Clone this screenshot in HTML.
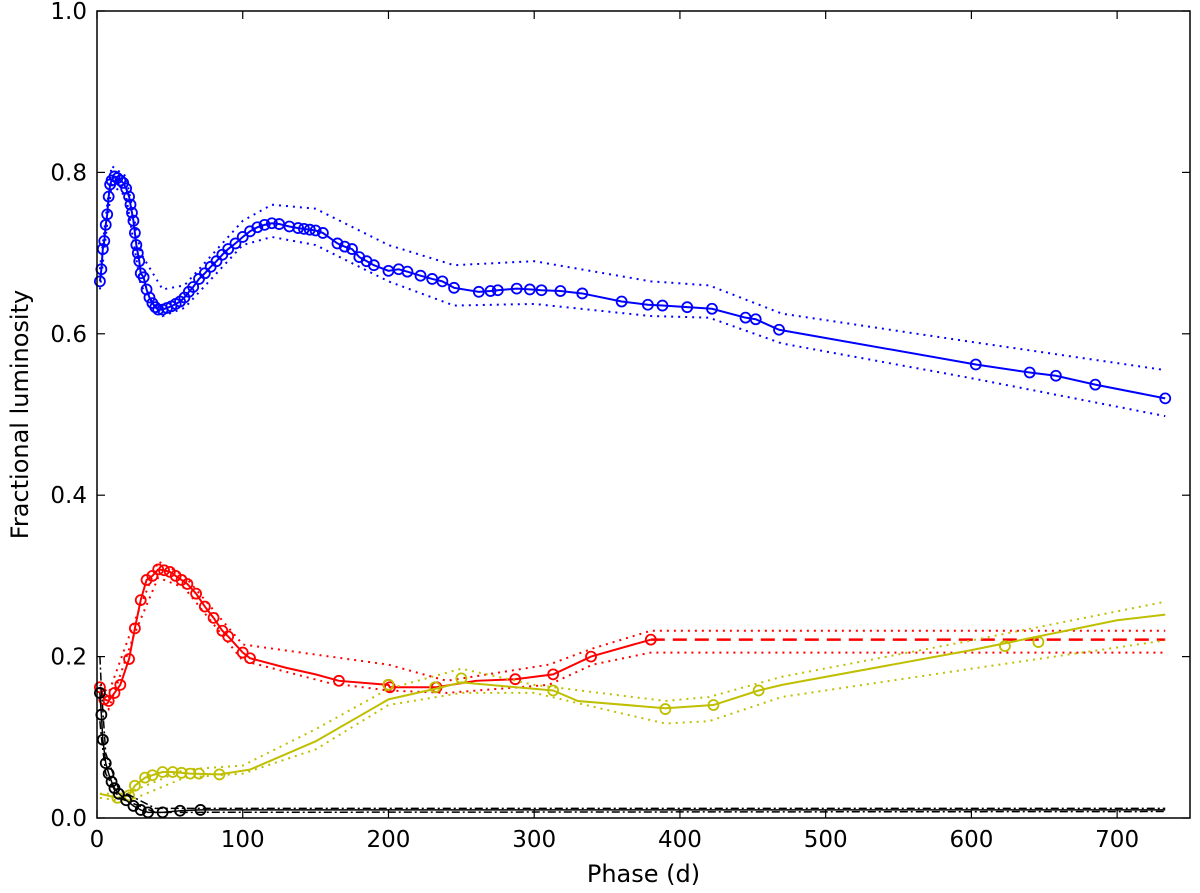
<!DOCTYPE html>
<html><head><meta charset="utf-8"><style>
body{margin:0;background:#fff;}
svg text{font-family:"DejaVu Sans","Liberation Sans",sans-serif;fill:#000;}
</style></head><body>
<svg id="chart" width="1200" height="888" xmlns="http://www.w3.org/2000/svg"></svg>
<script>
const xTicks=[0,100,200,300,400,500,600,700];
const yTicks=[0.0,0.2,0.4,0.6,0.8,1.0];
const blueMarkers=[[2,0.665],[3,0.68],[4,0.705],[5,0.715],[6,0.735],[7,0.748],[8,0.77],[9,0.785],[10,0.79],[12,0.795],[14,0.793],[16,0.79],[18,0.787],[20,0.78],[22,0.77],[23,0.76],[24,0.75],[25,0.74],[26,0.725],[27,0.71],[28,0.7],[29,0.69],[30,0.675],[32,0.67],[34,0.655],[36,0.645],[38,0.638],[40,0.633],[42,0.63],[45,0.63],[48,0.632],[51,0.634],[54,0.637],[57,0.64],[60,0.645],[63,0.652],[66,0.658],[70,0.668],[74,0.675],[78,0.683],[82,0.69],[86,0.698],[90,0.705],[95,0.712],[100,0.72],[105,0.727],[110,0.732],[115,0.735],[120,0.737],[125,0.736],[132,0.733],[138,0.731],[142,0.73],[146,0.729],[150,0.728],[155,0.725],[165,0.712],[170,0.708],[175,0.705],[180,0.695],[185,0.69],[190,0.685],[200,0.678],[207,0.68],[213,0.677],[222,0.672],[230,0.668],[237,0.665],[245,0.657],[262,0.652],[270,0.653],[275,0.654],[288,0.656],[297,0.655],[305,0.654],[318,0.653],[333,0.65],[360,0.64],[378,0.636],[388,0.635],[405,0.633],[422,0.631],[445,0.62],[452,0.618],[468,0.605],[603,0.562],[640,0.552],[658,0.548],[685,0.537],[733,0.52]];
const blueUpper=[[2,0.68],[10,0.808],[20,0.795],[30,0.7],[45,0.655],[60,0.66],[100,0.74],[120,0.76],[150,0.755],[200,0.71],[245,0.685],[300,0.69],[380,0.665],[420,0.66],[470,0.625],[600,0.59],[733,0.555]];
const blueLower=[[2,0.655],[10,0.785],[20,0.77],[30,0.66],[45,0.622],[60,0.632],[100,0.71],[120,0.72],[150,0.71],[200,0.665],[245,0.635],[300,0.637],[380,0.622],[420,0.62],[470,0.588],[600,0.545],[733,0.498]];
const redMarkers=[[2,0.162],[5,0.147],[8,0.145],[12,0.155],[16,0.165],[22,0.197],[26,0.235],[30,0.27],[34,0.295],[38,0.3],[42,0.308],[46,0.307],[50,0.305],[54,0.3],[58,0.295],[62,0.29],[68,0.278],[74,0.262],[80,0.248],[86,0.232],[90,0.225],[100,0.205],[105,0.198],[166,0.17],[200,0.165],[201,0.162],[233,0.162],[287,0.172],[313,0.178],[339,0.2],[380,0.221]];
const redLine=[[2,0.162],[5,0.147],[8,0.145],[12,0.155],[16,0.165],[22,0.197],[26,0.235],[30,0.27],[34,0.295],[38,0.3],[42,0.308],[46,0.307],[50,0.305],[54,0.3],[58,0.295],[62,0.29],[68,0.278],[74,0.262],[80,0.248],[86,0.232],[90,0.225],[100,0.205],[105,0.198],[130,0.186],[150,0.178],[166,0.17],[200,0.165],[201,0.162],[233,0.162],[260,0.17],[287,0.172],[313,0.178],[339,0.2],[380,0.221]];
const redDashed=[[380,0.221],[733,0.221]];
const redUpper=[[2,0.165],[8,0.155],[25,0.24],[42,0.318],[60,0.3],[100,0.215],[160,0.2],[200,0.19],[240,0.17],[310,0.19],[340,0.21],[380,0.232],[733,0.232]];
const redLower=[[2,0.15],[8,0.135],[25,0.225],[42,0.298],[60,0.285],[100,0.195],[160,0.167],[200,0.158],[240,0.155],[310,0.165],[340,0.19],[380,0.205],[733,0.205]];
const yelMarkers=[[14,0.025],[22,0.028],[26,0.04],[33,0.05],[38,0.053],[45,0.057],[52,0.057],[58,0.056],[64,0.055],[70,0.055],[84,0.054],[200,0.165],[232,0.162],[250,0.173],[313,0.158],[390,0.135],[423,0.14],[454,0.158],[623,0.213],[646,0.218]];
const yelLine=[[2,0.03],[14,0.025],[22,0.028],[26,0.04],[33,0.05],[38,0.053],[45,0.057],[52,0.057],[64,0.055],[84,0.054],[105,0.06],[150,0.095],[200,0.147],[232,0.16],[250,0.168],[313,0.158],[330,0.145],[390,0.136],[423,0.14],[454,0.158],[470,0.165],[600,0.208],[700,0.245],[733,0.252]];
const yelUpper=[[2,0.03],[20,0.03],[60,0.06],[100,0.065],[150,0.11],[200,0.16],[250,0.185],[300,0.165],[390,0.145],[420,0.15],[470,0.175],[600,0.22],[733,0.268]];
const yelLower=[[2,0.025],[20,0.02],[60,0.05],[100,0.055],[150,0.085],[200,0.14],[250,0.155],[300,0.155],[390,0.117],[420,0.12],[470,0.15],[600,0.185],[733,0.22]];
const blackMarkers=[[2,0.155],[3,0.128],[4,0.097],[6,0.068],[8,0.055],[10,0.045],[12,0.037],[15,0.03],[20,0.022],[25,0.015],[30,0.01],[35,0.007],[45,0.007],[57,0.009],[71,0.01]];
const blackLine=[[2,0.155],[3,0.128],[4,0.097],[6,0.068],[8,0.055],[10,0.045],[12,0.037],[15,0.03],[20,0.022],[25,0.015],[30,0.01],[35,0.007],[45,0.007],[57,0.009],[71,0.01],[733,0.01]];
const blackUpper=[[2,0.2],[3,0.16],[6,0.08],[15,0.035],[40,0.012],[733,0.012]];
const blackLower=[[2,0.12],[3,0.1],[6,0.055],[15,0.025],[40,0.007],[733,0.008]];

const L=97,R=1190,T=11,B=818,XMAX=750;
const sx=v=>L+v/XMAX*(R-L);
const sy=v=>B-v*(B-T);
const svg=document.getElementById('chart');
const NS='http://www.w3.org/2000/svg';
function mk(tag,attrs,name){const e=document.createElementNS(NS,tag);for(const k in attrs)e.setAttribute(k,attrs[k]);


svg.appendChild(e);return e;}
function line(pts,color,dash,w,name){mk('polyline',{points:pts.map(p=>sx(p[0])+','+sy(p[1])).join(' '),fill:'none',stroke:color,'stroke-width':w,'stroke-dasharray':dash||'none'},name);}
function markers(pts,color,name){pts.forEach(p=>mk('circle',{cx:sx(p[0]),cy:sy(p[1]),r:5,fill:'none',stroke:color,'stroke-width':1.8},name));}
const C={b:'#0000ff',r:'#ff0000',y:'#bfbf00',k:'#000000'};
line(blueUpper,C.b,'2,5',2,'blue-upper-bound');line(blueLower,C.b,'2,5',2,'blue-lower-bound');
line(blueMarkers,C.b,null,2,'blue-line');markers(blueMarkers,C.b,'blue-marker');
line(redUpper,C.r,'2,5',2,'red-upper-bound');line(redLower,C.r,'2,5',2,'red-lower-bound');
line(redLine,C.r,null,2,'red-line');line(redDashed,C.r,'14,8',2.5,'red-dashed-extension');markers(redMarkers,C.r,'red-marker');
line(yelUpper,C.y,'2,5',2,'yellow-upper-bound');line(yelLower,C.y,'2,5',2,'yellow-lower-bound');
line(yelLine,C.y,null,2,'yellow-line');markers(yelMarkers,C.y,'yellow-marker');
line(blackUpper,C.k,'8,3,2,3',1.5,'black-upper-bound');line(blackLower,C.k,'8,3,2,3',1.5,'black-lower-bound');
line(blackLine,C.k,null,1.5,'black-line');markers(blackMarkers,C.k,'black-marker');
mk('rect',{x:L,y:T,width:R-L,height:B-T,fill:'none',stroke:'#000','stroke-width':1.5},'plot-frame');
xTicks.forEach(t=>{const x=sx(t);
mk('line',{x1:x,x2:x,y1:B,y2:B-8,stroke:'#000','stroke-width':1.2},'x-tick');
mk('line',{x1:x,x2:x,y1:T,y2:T+8,stroke:'#000','stroke-width':1.2},'x-tick-top');
const tx=mk('text',{x:x,y:B+29,'font-size':23,'text-anchor':'middle'},'x-tick-label');tx.textContent=t;});
yTicks.forEach(t=>{const y=sy(t);
mk('line',{x1:L,x2:L+8,y1:y,y2:y,stroke:'#000','stroke-width':1.2},'y-tick');
mk('line',{x1:R,x2:R-8,y1:y,y2:y,stroke:'#000','stroke-width':1.2},'y-tick-right');
const tx=mk('text',{x:L-10,y:y+8,'font-size':23,'text-anchor':'end'},'y-tick-label');tx.textContent=t.toFixed(1);});
const xt=mk('text',{x:(L+R)/2,y:882,'font-size':24,'text-anchor':'middle'},'x-axis-title');xt.textContent='Phase (d)';
const yt=mk('text',{x:0,y:0,'font-size':24,'text-anchor':'middle',transform:'translate(28,'+(T+B)/2+') rotate(-90)'},'y-axis-title');yt.textContent='Fractional luminosity';
</script>
</body></html>
